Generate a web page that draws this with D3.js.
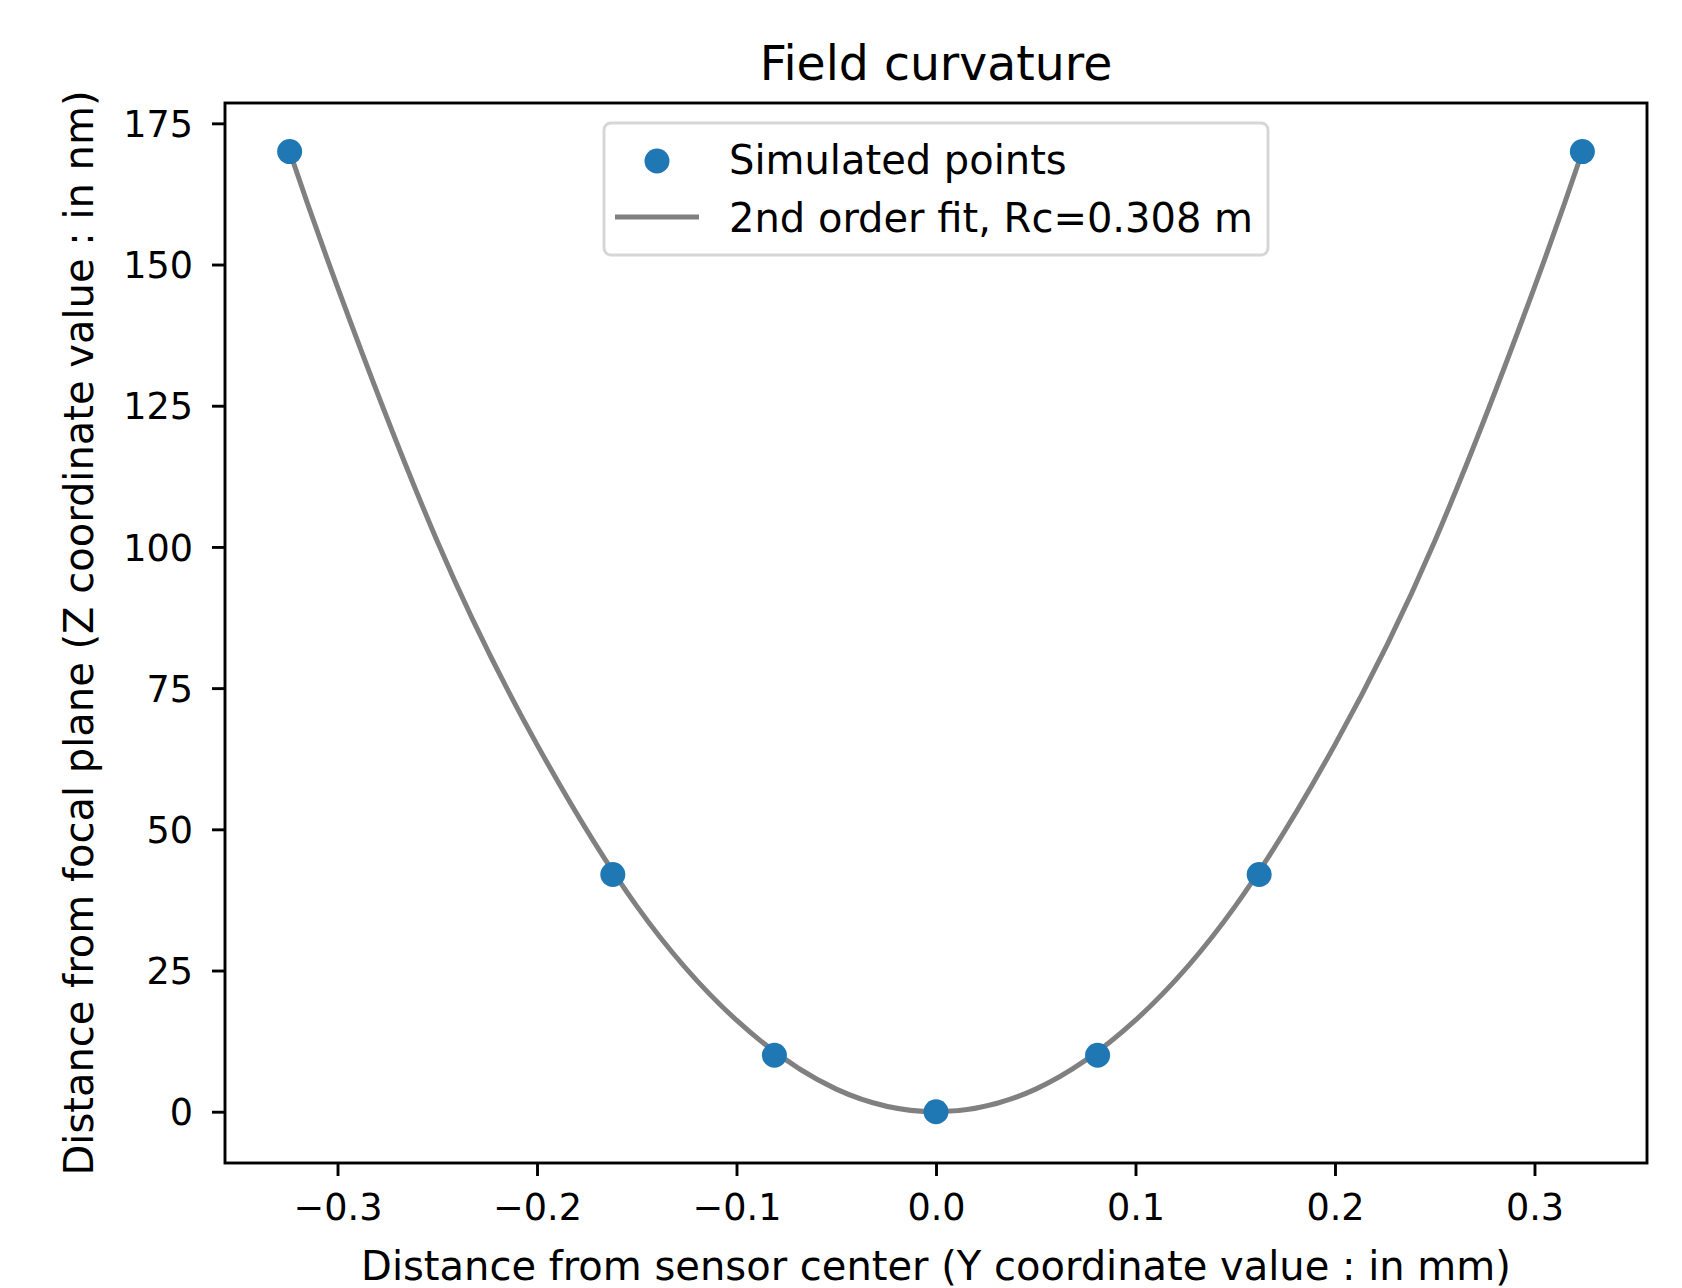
<!DOCTYPE html>
<html>
<head>
<meta charset="utf-8">
<script src="https://cdn.jsdelivr.net/npm/d3@7"></script>
<style>
  body { margin: 0; background: #fff; }
  text { font-family: "DejaVu Sans", sans-serif; fill: #000; }
</style>
</head>
<body>
<svg id="chart" width="1682" height="1288"></svg>
<script>
// simulated points (Y in mm, Z in nm)
let pointY = [-0.324, -0.162, -0.081, 0.0, 0.081, 0.162, 0.324],
    pointZ = [170, 42, 10, 0, 10, 42, 170];

// 2nd order fit curve
let fitY = [-0.324, -0.3, -0.25, -0.2, -0.15, -0.1, -0.05, 0, 0.05, 0.1, 0.15, 0.2, 0.25, 0.3, 0.324],
    fitZ = [170, 146, 101, 65, 36.4, 16.2, 4.0, 0, 4.0, 16.2, 36.4, 65, 101, 146, 170];

let xTicks = [-0.3, -0.2, -0.1, 0.0, 0.1, 0.2, 0.3],
    yTicks = [0, 25, 50, 75, 100, 125, 150, 175];

let titleText = "Field curvature",
    xLabel = "Distance from sensor center (Y coordinate value : in mm)",
    yLabel = "Distance from focal plane (Z coordinate value : in nm)",
    legendLabels = ["Simulated points", "2nd order fit, Rc=0.308 m"];

let box = {left: 225, right: 1647, top: 103, bottom: 1163},
    blue = "#1f77b4",
    grey = "#808080",
    tickLen = 13;

let svg = d3.select("#chart");

let x = d3.scaleLinear().domain([-0.3564, 0.3564]).range([box.left, box.right]),
    y = d3.scaleLinear().domain([-9.08, 178.6]).range([box.bottom, box.top]);

let fmt = d => d3.format(".1f")(d).replace("-", "\u2212");

// axes
let xAxis = d3.axisBottom(x).tickValues(xTicks).tickFormat(fmt)
      .tickSize(tickLen).tickPadding(18).tickSizeOuter(0),
    yAxis = d3.axisLeft(y).tickValues(yTicks).tickFormat(d3.format("d"))
      .tickSize(tickLen).tickPadding(19).tickSizeOuter(0);

let gx = svg.append("g")
  .attr("transform", `translate(0,${box.bottom})`)
  .call(xAxis);
let gy = svg.append("g")
  .attr("transform", `translate(${box.left},0)`)
  .call(yAxis);

[gx, gy].forEach(g => {
  g.select(".domain").remove();
  g.selectAll(".tick line").attr("stroke", "#000").attr("stroke-width", 2.9);
  g.selectAll(".tick text").attr("font-size", 36.6).attr("fill", "#000");
});
gx.selectAll(".tick text").attr("dy", "0.71em");
gy.selectAll(".tick text").attr("dy", "0.36em");

// fit line
let line = d3.line()
  .x((d, i) => x(fitY[i]))
  .y(d => y(d))
  .curve(d3.curveNatural);

svg.append("path")
  .datum(fitZ)
  .attr("d", line)
  .attr("fill", "none")
  .attr("stroke", grey)
  .attr("stroke-width", 5);

// points
svg.append("g")
  .selectAll("circle")
  .data(pointZ).enter()
  .append("circle")
  .attr("cx", (d, i) => x(pointY[i]))
  .attr("cy", d => y(d))
  .attr("r", 12.5)
  .attr("fill", blue);

// frame
svg.append("rect")
  .attr("x", box.left).attr("y", box.top)
  .attr("width", box.right - box.left).attr("height", box.bottom - box.top)
  .attr("fill", "none").attr("stroke", "#000").attr("stroke-width", 2.9);

// title and labels
svg.append("text")
  .attr("x", (box.left + box.right) / 2).attr("y", 80)
  .attr("text-anchor", "middle").attr("font-size", 47.3)
  .text(titleText);

svg.append("text")
  .attr("x", (box.left + box.right) / 2).attr("y", 1280)
  .attr("text-anchor", "middle").attr("font-size", 40)
  .text(xLabel);

svg.append("text")
  .attr("transform", `translate(93,${(box.top + box.bottom) / 2}) rotate(-90)`)
  .attr("text-anchor", "middle").attr("font-size", 40)
  .text(yLabel);

// legend
let legend = svg.append("g");
legend.append("rect")
  .attr("x", 604).attr("y", 123).attr("width", 664).attr("height", 132)
  .attr("rx", 7)
  .attr("fill", "#fff").attr("fill-opacity", 0.8)
  .attr("stroke", "#d6d6d6").attr("stroke-width", 2.9);

legend.append("circle")
  .attr("cx", 657).attr("cy", 161).attr("r", 12.5).attr("fill", blue);
legend.append("line")
  .attr("x1", 615).attr("x2", 699).attr("y1", 217).attr("y2", 217)
  .attr("stroke", grey).attr("stroke-width", 5);

legend.selectAll("text")
  .data(legendLabels).enter()
  .append("text")
  .attr("x", 729)
  .attr("y", (d, i) => 174 + i * 58)
  .attr("font-size", 40)
  .text(d => d);
</script>
</body>
</html>
